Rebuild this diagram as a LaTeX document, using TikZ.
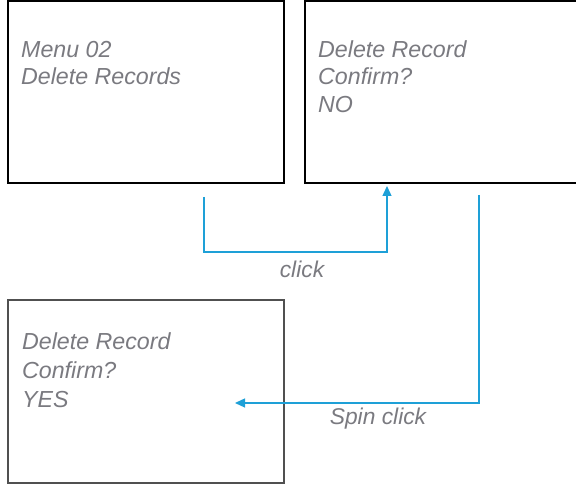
\documentclass[tikz,border=0pt]{standalone}
\usepackage{fontspec}
\setmainfont{Liberation Sans}
\usetikzlibrary{arrows.meta}
\definecolor{screentext}{RGB}{122,122,128}
\definecolor{flowblue}{RGB}{30,160,215}
\definecolor{boxgray}{RGB}{80,80,80}
\tikzset{
  screen/.style={draw=black, line width=2.2pt, minimum width=276pt, inner sep=0pt},
  softscreen/.style={draw=boxgray, line width=1.5pt, minimum width=276pt, inner sep=0pt},
  line/.style={anchor=base west, inner sep=0pt, text=screentext,
    font=\fontsize{23.2}{27}\selectfont\itshape},
  flow/.style={draw=flowblue, line width=1.3pt,
    -{Triangle[length=10pt,width=9pt]}},
  flowlabel/.style={inner sep=0pt, text=screentext,
    font=\fontsize{22.8}{27}\selectfont\itshape}
}
\begin{document}
\begin{tikzpicture}[x=1pt,y=1pt]
\useasboundingbox (0,0) rectangle (576,486);
\clip (0,0) rectangle (576,486);

% three screens
\node[screen, minimum height=182pt] (menu) at (146,394) {};
\node[screen, minimum width=296pt, minimum height=182pt] (confirmno) at (453,394) {};
\node[softscreen, minimum height=183pt] (confirmyes) at (146,94.5) {};

% screen contents
\node[line] (m1) at (21,428) {Menu 02};
\node[line] (m2) at (21,401) {Delete Records};

\node[line] (n1) at (318,428) {Delete Record};
\node[line] (n2) at (318,401) {Confirm?};
\node[line] (n3) at (318,373) {NO};

\node[line] (y1) at (22,136) {Delete Record};
\node[line] (y2) at (22,107) {Confirm?};
\node[line] (y3) at (22,78) {YES};

% transitions
\coordinate (clickstart) at (204,289);
\coordinate (clickend) at (387,300);
\draw[flow] (clickstart) -- ++(0,-55) -| (clickend);
\node[flowlabel] (clicklbl) at (302,217) {click};

\coordinate (spinstart) at (479,291);
\coordinate (spinend) at (235,83);
\draw[flow] (spinstart) |- (spinend);
\node[flowlabel] (spinlbl) at (378,67) {Spin click};
\end{tikzpicture}
\end{document}
